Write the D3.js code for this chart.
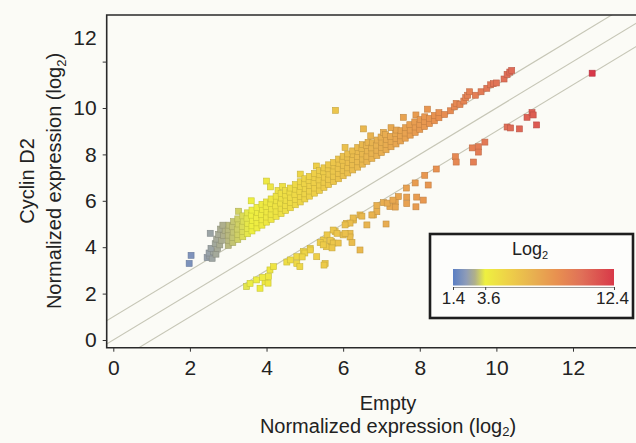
<!DOCTYPE html>
<html>
<head>
<meta charset="utf-8">
<script src="https://cdn.jsdelivr.net/npm/d3@7"></script>
<style>
  body { margin: 0; background: #fbfbf6; }
  svg { display: block; font-family: "Liberation Sans", Arial, sans-serif; }
</style>
</head>
<body>
<script>
// axis ticks
const xTicks = [0, 2, 4, 6, 8, 10, 12];
const yTicks = [0, 2, 4, 6, 8, 10, 12];
const legendTicks = [1.4, 3.6, 12.4];

// reference lines y = x + offset
const diagOffsets = [-1, 0, 1];

// colour bar stops (value on log2 scale)
const colorStops = [1.4, 2.3, 2.9, 3.6, 5.2, 6.9, 8.5, 10.2, 12.4];
const colorValues = ["#5b7fc4", "#8e9cb8", "#b0b08a", "#eef040", "#eed048", "#e8b050", "#e89050", "#e07058", "#d83848"];

// points above y = x + 1 (higher in Cyclin D2)
const upperPoints = [
  [1.98, 3.30], [2.03, 3.65],
  [2.45, 3.55], [2.52, 3.62], [2.58, 3.52], [2.50, 3.75], [2.62, 3.80], [2.55, 3.95], [2.68, 3.70],
  [2.72, 3.95], [2.66, 4.15], [2.78, 4.10], [2.70, 4.35], [2.82, 4.30], [2.75, 4.55], [2.88, 4.50],
  [2.80, 4.78], [2.92, 4.72], [2.86, 4.95], [2.53, 4.60],
  [3.00, 4.08], [3.00, 4.30], [3.00, 4.52], [3.00, 4.75], [3.02, 4.95],
  [3.12, 4.20], [3.12, 4.42], [3.13, 4.65], [3.11, 4.88], [3.14, 5.10],
  [3.25, 4.33], [3.25, 4.55], [3.24, 4.78], [3.26, 5.00], [3.25, 5.22], [3.27, 5.55],
  [3.38, 4.45], [3.38, 4.68], [3.37, 4.90], [3.39, 5.12], [3.38, 5.35],
  [3.50, 4.58], [3.50, 4.80], [3.51, 5.02], [3.49, 5.25], [3.50, 5.48],
  [3.62, 4.70], [3.62, 4.92], [3.63, 5.15], [3.61, 5.38], [3.62, 5.60], [3.60, 6.00],
  [3.75, 4.83], [3.75, 5.05], [3.74, 5.28], [3.76, 5.50], [3.75, 5.72],
  [3.88, 4.95], [3.88, 5.18], [3.87, 5.40], [3.89, 5.62], [3.88, 5.85],
  [4.00, 5.08], [4.00, 5.30], [4.01, 5.52], [3.99, 5.75], [4.00, 5.95], [4.00, 6.85],
  [4.12, 5.20], [4.12, 5.42], [4.13, 5.65], [4.11, 5.88], [4.12, 6.08], [4.10, 6.60],
  [4.25, 5.33], [4.25, 5.55], [4.24, 5.78], [4.26, 6.00], [4.25, 6.20], [4.30, 6.45],
  [4.38, 5.45], [4.38, 5.68], [4.37, 5.90], [4.39, 6.12], [4.38, 6.32], [4.42, 6.62],
  [4.50, 5.58], [4.50, 5.80], [4.51, 6.02], [4.49, 6.25], [4.50, 6.45],
  [4.62, 5.70], [4.62, 5.92], [4.63, 6.15], [4.61, 6.38], [4.62, 6.55],
  [4.75, 5.83], [4.75, 6.05], [4.74, 6.28], [4.76, 6.50], [4.75, 6.70],
  [4.88, 5.95], [4.88, 6.18], [4.87, 6.40], [4.89, 6.62], [4.88, 6.82], [4.88, 7.15],
  [5.00, 6.08], [5.00, 6.30], [5.01, 6.52], [4.99, 6.75], [5.00, 6.95],
  [5.12, 6.20], [5.12, 6.42], [5.13, 6.65], [5.11, 6.88], [5.12, 7.05],
  [5.25, 6.33], [5.25, 6.55], [5.24, 6.78], [5.26, 7.00], [5.25, 7.18], [5.30, 7.50],
  [5.38, 6.45], [5.38, 6.68], [5.37, 6.90], [5.39, 7.12], [5.38, 7.30],
  [5.50, 6.58], [5.50, 6.80], [5.51, 7.02], [5.49, 7.25], [5.50, 7.42],
  [5.62, 6.70], [5.62, 6.92], [5.63, 7.15], [5.61, 7.38], [5.62, 7.55],
  [5.75, 6.83], [5.75, 7.05], [5.74, 7.28], [5.76, 7.50], [5.75, 7.65], [5.80, 9.90],
  [5.88, 6.95], [5.88, 7.18], [5.87, 7.40], [5.89, 7.62], [5.88, 7.80],
  [6.00, 7.08], [6.00, 7.30], [6.01, 7.52], [5.99, 7.75], [6.00, 7.92], [6.05, 8.30],
  [6.12, 7.20], [6.12, 7.42], [6.13, 7.65], [6.11, 7.88], [6.12, 8.02],
  [6.25, 7.33], [6.25, 7.55], [6.24, 7.78], [6.26, 8.00], [6.25, 8.15],
  [6.38, 7.45], [6.38, 7.68], [6.37, 7.90], [6.39, 8.12], [6.38, 8.30],
  [6.50, 7.58], [6.50, 7.80], [6.51, 8.02], [6.49, 8.25], [6.50, 8.42], [6.53, 9.10],
  [6.62, 7.70], [6.62, 7.92], [6.63, 8.15], [6.61, 8.38], [6.65, 8.52],
  [6.75, 7.83], [6.75, 8.05], [6.74, 8.28], [6.76, 8.50], [6.72, 8.80],
  [6.88, 7.95], [6.88, 8.18], [6.87, 8.40], [6.89, 8.62],
  [7.00, 8.08], [7.00, 8.30], [7.01, 8.52], [6.99, 8.75], [7.05, 8.95],
  [7.12, 8.20], [7.12, 8.42], [7.13, 8.65], [7.11, 8.85],
  [7.25, 8.33], [7.25, 8.55], [7.24, 8.78], [7.25, 9.15],
  [7.38, 8.45], [7.38, 8.68], [7.37, 8.90], [7.39, 9.05],
  [7.50, 8.58], [7.50, 8.80], [7.51, 9.02],
  [7.62, 8.70], [7.62, 8.92], [7.63, 9.15], [7.57, 9.60],
  [7.75, 8.83], [7.75, 9.05], [7.74, 9.28],
  [7.88, 8.95], [7.88, 9.18], [7.87, 9.40], [7.90, 9.70],
  [8.00, 9.08], [8.00, 9.30], [8.01, 9.50],
  [8.12, 9.20], [8.12, 9.42], [8.13, 9.62],
  [8.25, 9.33], [8.25, 9.55], [8.20, 9.95],
  [8.38, 9.45], [8.38, 9.68],
  [8.50, 9.58], [8.50, 9.80],
  [8.65, 9.72], [8.80, 9.88], [8.90, 10.05], [8.95, 10.20], [9.05, 10.15],
  [9.15, 10.30], [9.20, 10.45], [9.25, 10.55], [9.30, 10.70], [9.45, 10.55],
  [9.60, 10.70], [9.75, 10.85], [9.85, 11.00], [9.92, 11.05], [10.00, 11.08],
  [10.20, 11.25], [10.28, 11.45], [10.35, 11.55], [10.40, 11.62]
];

// points below y = x - 1 (lower in Cyclin D2)
const lowerPoints = [
  [3.48, 2.30], [3.57, 2.44], [3.74, 2.59], [3.83, 2.23], [3.96, 2.51], [4.05, 2.73], [4.09, 3.02],
  [4.18, 3.16], [3.90, 2.70], [4.04, 2.45],
  [4.53, 3.36], [4.62, 3.45], [4.79, 3.59], [4.96, 3.81], [5.14, 3.95], [5.31, 3.59], [4.79, 3.30],
  [4.87, 3.16], [5.53, 3.30], [5.00, 3.75], [4.93, 3.58], [5.50, 3.23], [5.14, 3.88],
  [5.49, 4.31], [5.57, 4.02], [5.70, 4.24], [5.79, 4.67], [6.00, 4.53], [6.18, 4.60], [5.74, 4.74],
  [5.58, 4.53], [5.84, 4.60], [5.66, 4.30], [5.40, 4.20], [5.48, 4.10], [5.74, 4.18], [5.87, 4.18],
  [6.18, 4.44], [6.23, 4.20], [6.05, 4.60], [5.71, 3.97], [6.44, 3.88],
  [6.09, 5.03], [6.27, 5.17], [6.44, 5.39], [6.62, 4.96], [6.79, 5.39], [6.88, 5.53], [6.26, 5.26],
  [6.18, 5.04], [6.05, 4.96], [6.49, 5.34], [6.75, 5.39], [7.12, 5.00],
  [7.05, 5.92], [7.22, 5.75], [7.36, 5.96], [7.44, 6.18], [6.88, 5.80], [7.66, 5.88], [7.90, 5.74],
  [7.15, 5.90], [7.30, 6.03], [7.36, 5.73], [7.66, 6.16], [7.92, 6.16], [8.09, 6.03],
  [7.65, 6.55], [7.88, 6.77], [8.22, 6.68], [8.13, 7.10], [8.43, 7.37], [8.93, 7.90], [8.95, 7.67],
  [9.40, 7.67], [9.37, 8.28], [9.53, 8.33], [9.53, 8.10], [9.70, 8.53], [10.28, 9.18], [10.37, 9.14],
  [10.60, 9.10], [11.05, 9.27], [10.80, 9.60], [10.93, 9.80], [10.96, 9.70], [12.50, 11.50]
];

const width = 636, height = 443;
const frame = { left: 106.7, top: 15, bottom: 347.7, right: 640 };

const svg = d3.select("body").append("svg")
  .attr("width", width)
  .attr("height", height);

const x = d3.scaleLinear().domain([0, 12]).range([113.3, 573]);
const y = d3.scaleLinear().domain([0, 12]).range([340, 61.6]);
const color = d3.scaleLinear().domain(colorStops).range(colorValues).clamp(true);

svg.append("defs").append("clipPath").attr("id", "plotclip")
  .append("rect")
  .attr("x", frame.left).attr("y", frame.top)
  .attr("width", frame.right - frame.left).attr("height", frame.bottom - frame.top);

// diagonal lines
const plot = svg.append("g").attr("clip-path", "url(#plotclip)");
plot.selectAll("line.diag")
  .data(diagOffsets)
  .enter()
  .append("line")
  .attr("class", "diag")
  .attr("x1", x(-2)).attr("y1", d => y(-2 + d))
  .attr("x2", x(16)).attr("y2", d => y(16 + d))
  .attr("stroke", "#c6c6b6")
  .attr("stroke-width", 1.1);

const allPoints = upperPoints.concat(lowerPoints);
const size = 6;
plot.selectAll("rect.pt")
  .data(allPoints)
  .enter()
  .append("rect")
  .attr("class", "pt")
  .attr("x", d => x(d[0]) - size / 2)
  .attr("y", d => y(d[1]) - size / 2)
  .attr("width", size)
  .attr("height", size)
  .attr("fill", d => color(d[0]))
  .attr("stroke", d => d3.color(color(d[0])).darker(0.5))
  .attr("stroke-width", 0.6);

// frame
svg.append("path")
  .attr("d", `M${frame.right},${frame.top}H${frame.left}V${frame.bottom}H${frame.right}`)
  .attr("fill", "none")
  .attr("stroke", "#2a2a2a")
  .attr("stroke-width", 1.6);

// axes
const xAxis = svg.append("g")
  .attr("transform", `translate(0,${frame.bottom})`)
  .call(d3.axisBottom(x).tickValues(xTicks).tickSize(4).tickPadding(8));
const yAxis = svg.append("g")
  .attr("transform", `translate(${frame.left},0)`)
  .call(d3.axisLeft(y).tickValues(yTicks).tickSize(4).tickPadding(6));

[xAxis, yAxis].forEach(a => {
  a.select(".domain").remove();
  a.selectAll(".tick line").attr("stroke", "#333");
  a.selectAll(".tick text")
    .attr("font-size", 21)
    .attr("font-family", "Liberation Sans, Arial, sans-serif")
    .attr("fill", "#222");
});
// the "12" label sits above its tick in the original
yAxis.selectAll(".tick text").filter(d => d === 12).attr("dy", "-0.82em");

// axis titles
const xTitle = svg.append("text")
  .attr("x", 388).attr("y", 410)
  .attr("text-anchor", "middle")
  .attr("font-size", 20)
  .attr("fill", "#222");
xTitle.append("tspan").attr("x", 388).text("Empty");
const xt2 = xTitle.append("tspan").attr("x", 388).attr("dy", 23).text("Normalized expression (log");
xt2.append("tspan").attr("font-size", 13).attr("dy", 3).text("2");
xt2.append("tspan").attr("dy", -3).text(")");

const yTitle = svg.append("text")
  .attr("transform", "translate(0,181) rotate(-90)")
  .attr("text-anchor", "middle")
  .attr("font-size", 20)
  .attr("fill", "#222");
yTitle.append("tspan").attr("x", 0).attr("y", 34).text("Cyclin D2");
const yt2 = yTitle.append("tspan").attr("x", 0).attr("y", 61).text("Normalized expression (log");
yt2.append("tspan").attr("font-size", 13).attr("dy", 5).text("2");
yt2.append("tspan").attr("dy", -5).text(")");

// colour legend
const legend = svg.append("g");
legend.append("rect")
  .attr("x", 430).attr("y", 234)
  .attr("width", 203).attr("height", 84)
  .attr("fill", "#fdfdfb")
  .attr("stroke", "#1e1e1e")
  .attr("stroke-width", 2.6);

const lt = legend.append("text")
  .attr("x", 530).attr("y", 255)
  .attr("text-anchor", "middle")
  .attr("font-size", 18)
  .attr("fill", "#222")
  .text("Log");
lt.append("tspan").attr("font-size", 11).attr("dy", 4).text("2");

const lx = d3.scaleLinear().domain([1.4, 12.4]).range([453, 614]);
const grad = svg.select("defs").append("linearGradient")
  .attr("id", "cbar")
  .attr("x1", "0%").attr("x2", "100%").attr("y1", "0%").attr("y2", "0%");
grad.selectAll("stop")
  .data(colorStops)
  .enter()
  .append("stop")
  .attr("offset", d => ((lx(d) - 453) / (614 - 453) * 100) + "%")
  .attr("stop-color", (d, i) => colorValues[i]);

legend.append("rect")
  .attr("x", lx(1.4)).attr("y", 269)
  .attr("width", lx(12.4) - lx(1.4)).attr("height", 16.5)
  .attr("fill", "url(#cbar)");

const lAxis = legend.append("g")
  .attr("transform", "translate(0,287)")
  .call(d3.axisBottom(lx).tickValues(legendTicks).tickSize(3).tickPadding(2).tickFormat(d3.format(".1f")));
lAxis.select(".domain").attr("stroke", "#999").attr("stroke-width", 1);
lAxis.selectAll(".tick line").attr("stroke", "#444");
lAxis.selectAll(".tick text")
  .attr("font-size", 17)
  .attr("font-family", "Liberation Sans, Arial, sans-serif")
  .attr("fill", "#222");
lAxis.selectAll(".tick text").filter(d => d === 3.6).attr("dx", 3);
lAxis.selectAll(".tick text").filter(d => d === 12.4).attr("dx", -2);
</script>
</body>
</html>
